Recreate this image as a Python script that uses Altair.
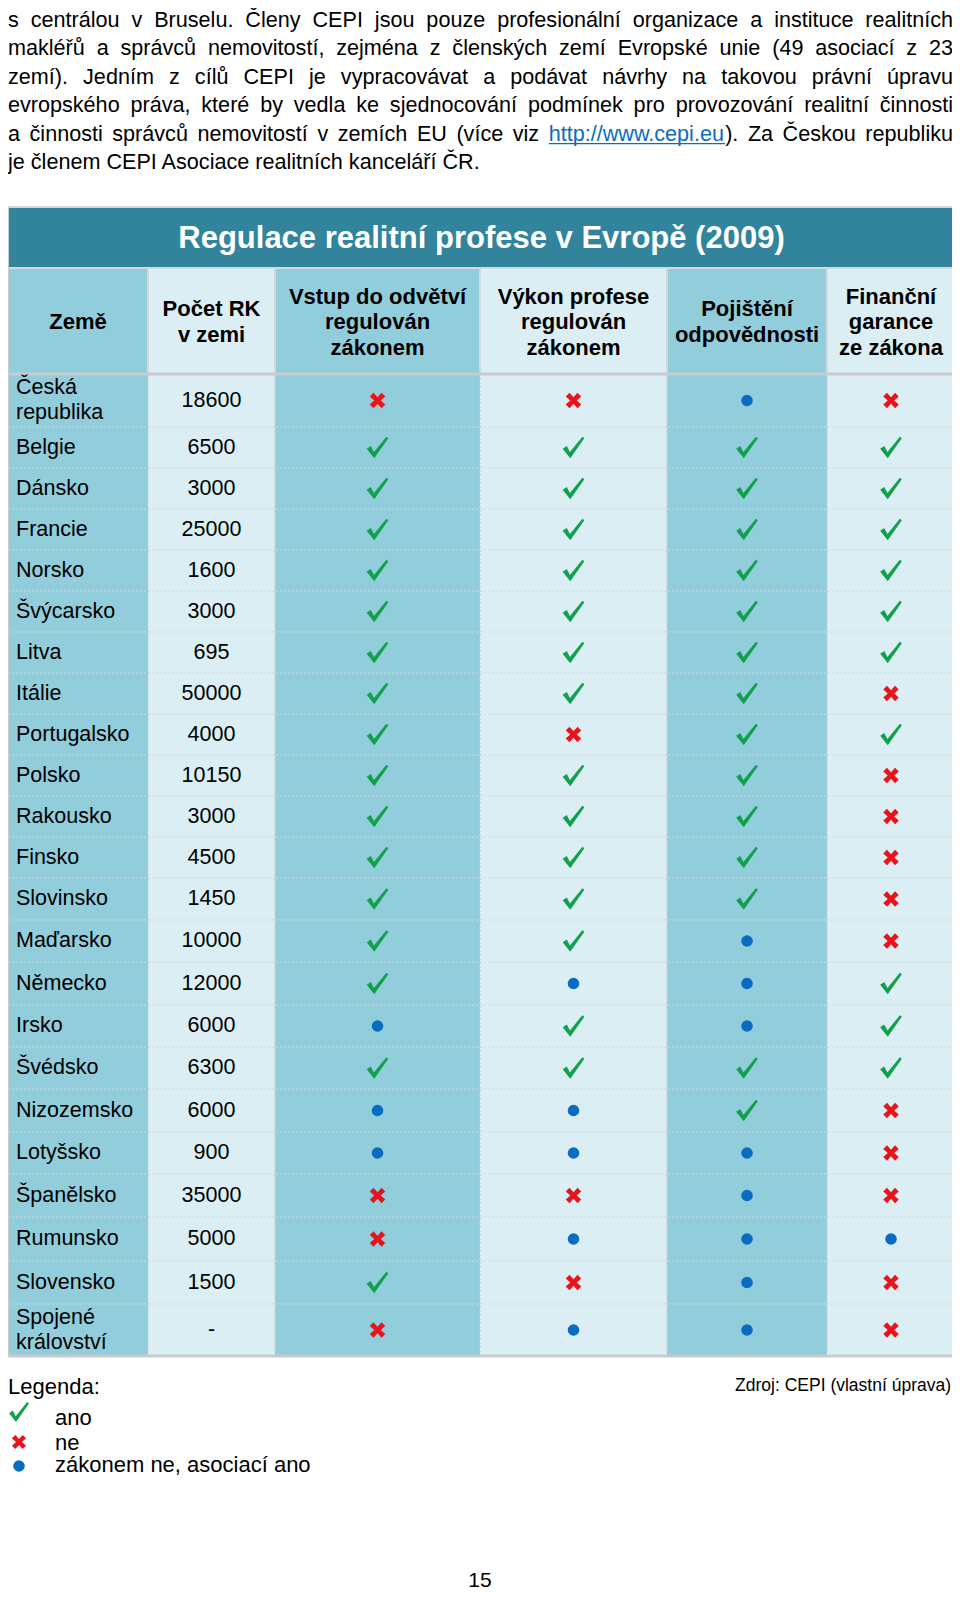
import re
import unicodedata
import altair as alt
import pandas as pd

# ---------------- data ----------------
countries = ["Česká\nrepublika", "Belgie", "Dánsko", "Francie", "Norsko", "Švýcarsko",
             "Litva", "Itálie", "Portugalsko", "Polsko", "Rakousko", "Finsko",
             "Slovinsko", "Maďarsko", "Německo", "Irsko", "Švédsko", "Nizozemsko",
             "Lotyšsko", "Španělsko", "Rumunsko", "Slovensko", "Spojené\nkrálovství"]
agencies = ["18600", "6500", "3000", "25000", "1600", "3000", "695", "50000", "4000",
            "10150", "3000", "4500", "1450", "10000", "12000", "6000", "6300", "6000",
            "900", "35000", "5000", "1500", "-"]
# y = ano, n = ne, a = zákonem ne, asociací ano
entry_regulated = ["n", "y", "y", "y", "y", "y", "y", "y", "y", "y", "y", "y", "y", "y",
                   "y", "a", "y", "a", "a", "n", "n", "y", "n"]
practice_regulated = ["n", "y", "y", "y", "y", "y", "y", "y", "n", "y", "y", "y", "y", "y",
                      "a", "y", "y", "a", "a", "n", "a", "n", "a"]
liability_insurance = ["a", "y", "y", "y", "y", "y", "y", "y", "y", "y", "y", "y", "y", "a",
                       "a", "a", "y", "y", "a", "a", "a", "a", "a"]
financial_guarantee = ["n", "y", "y", "y", "y", "y", "y", "n", "y", "n", "n", "n", "n", "n",
                       "y", "y", "y", "n", "n", "n", "a", "n", "n"]
header_labels = ["Země", "Počet RK\nv zemi", "Vstup do odvětví\nregulován\nzákonem",
                 "Výkon profese\nregulován\nzákonem", "Pojištění\nodpovědnosti",
                 "Finanční\ngarance\nze zákona"]
title_text = "Regulace realitní profese v Evropě (2009)"
paragraph_lines = [
    "s centrálou v Bruselu. Členy CEPI jsou pouze profesionální organizace a instituce realitních",
    "makléřů a správců nemovitostí, zejména z členských zemí Evropské unie (49 asociací z 23",
    "zemí). Jedním z cílů CEPI je vypracovávat a podávat návrhy na takovou právní úpravu",
    "evropského práva, které by vedla ke sjednocování podmínek pro provozování realitní činnosti",
    "a činnosti správců nemovitostí v zemích EU (více viz {http://www.cepi.eu}). Za Českou republiku",
    "je členem CEPI  Asociace realitních kanceláří ČR.",
]
legend_title = "Legenda:"
legend_keys = ["y", "n", "a"]
legend_labels = ["ano", "ne", "zákonem ne, asociací ano"]
source_text = "Zdroj: CEPI (vlastní úprava)"
page_number = "15"

# ---------------- layout / style ----------------
FONT = "Liberation Sans, Arial, Helvetica, sans-serif"
COL_EDGES = [8, 148, 275, 480, 667, 827, 955]
ROW_H = [53] + [41] * 11 + [42, 42, 43, 42, 42, 43, 42, 43, 44, 43, 52]
TITLE_TOP, HEAD_TOP, BODY_TOP = 207, 268, 374
DARK, MID, LIGHT = "#31849B", "#92CDDC", "#DAEEF3"
COL_FILL = [MID, LIGHT, MID, LIGHT, MID, LIGHT]
GREEN, RED, BLUE = "#12A04C", "#E8141C", "#0A6CC0"
CHECK = "M-1,0.12 L-0.62,-0.14 L-0.33,0.42 L0.82,-1 L1,-0.86 L-0.3,1 Z"
CROSS = ("M-1,-0.52 L-0.52,-1 L0,-0.42 L0.52,-1 L1,-0.52 L0.42,0 L1,0.52 "
         "L0.52,1 L0,0.42 L-0.52,1 L-1,0.52 L-0.42,0 Z")
HEAD_LH, ROW_LH = 25.5, 25

row_edges = [BODY_TOP]
for h in ROW_H:
    row_edges.append(row_edges[-1] + h)
BODY_BOTTOM = row_edges[-1]
col_center = [(COL_EDGES[i] + COL_EDGES[i + 1]) / 2 for i in range(6)]
row_center = [(row_edges[i] + row_edges[i + 1]) / 2 for i in range(len(ROW_H))]


def first_line_y(center, text, lh):
    """y of the first line so that a multi-line block is centred on `center`."""
    return center - (text.count("\n")) * lh / 2


XS = alt.Scale(domain=[8, 952], nice=False, zero=False)
YS = alt.Scale(domain=[8, 1591], reverse=True, nice=False, zero=False)


def X(f="x"):
    return alt.X(f"{f}:Q", scale=XS, axis=None)


def Y(f="y"):
    return alt.Y(f"{f}:Q", scale=YS, axis=None)


# ---------- text width helper (Arial / Liberation Sans metrics) ----------
AW = {' ': 278, '(': 333, ')': 333, ',': 278, '-': 333, '.': 278, '/': 278, ':': 278,
      'A': 667, 'B': 667, 'C': 722, 'D': 722, 'E': 667, 'F': 611, 'G': 778, 'H': 722,
      'I': 278, 'J': 500, 'K': 667, 'L': 556, 'M': 833, 'N': 722, 'O': 778, 'P': 667,
      'Q': 778, 'R': 722, 'S': 667, 'T': 611, 'U': 722, 'V': 667, 'W': 944, 'X': 667,
      'Y': 667, 'Z': 611, 'a': 556, 'b': 556, 'c': 500, 'd': 556, 'e': 556, 'f': 278,
      'g': 556, 'h': 556, 'i': 222, 'j': 222, 'k': 500, 'l': 222, 'm': 833, 'n': 556,
      'o': 556, 'p': 556, 'q': 556, 'r': 333, 's': 500, 't': 278, 'u': 556, 'v': 500,
      'w': 722, 'x': 500, 'y': 500, 'z': 500}
for d in "0123456789":
    AW[d] = 556
SPECIAL = {'í': 278, 'Í': 278, 'ď': 615, 'ť': 375}


def tw(s, fs):
    tot = 0
    for ch in s:
        if ch in SPECIAL:
            tot += SPECIAL[ch]
        else:
            tot += AW.get(unicodedata.normalize("NFD", ch)[0], 556)
    return tot * fs / 1000


# ---------- paragraph (justified) ----------
PFS = 21.6
PL, PR = 8, 953
PTOP, PSTEP = 21, 28.4
para, underline = [], []
for li, line in enumerate(paragraph_lines):
    y = PTOP + PSTEP * li
    if li == len(paragraph_lines) - 1:
        para.append(dict(t=line, x=PL, y=y, c="#000000"))
        continue
    words = line.split(" ")
    segs_all = []
    for w in words:
        segs = [s for s in re.split(r"(\{[^}]*\})", w) if s]
        segs_all.append([(s.strip("{}"), s.startswith("{")) for s in segs])
    widths = [sum(tw(s, PFS) for s, _ in sg) for sg in segs_all]
    gap = (PR - PL - sum(widths)) / (len(words) - 1)
    x = PL
    for sg, wd in zip(segs_all, widths):
        sx = x
        for s, link in sg:
            para.append(dict(t=s, x=sx, y=y, c=BLUE if link else "#000000"))
            if link:
                underline.append(dict(x=sx, x2=sx + tw(s, PFS), y=y + 9))
            sx += tw(s, PFS)
        x += wd + gap
para_df = pd.DataFrame(para)
under_df = pd.DataFrame(underline)

# ---------- tables ----------
title_df = pd.DataFrame([dict(x=COL_EDGES[0], x2=COL_EDGES[-1], y=TITLE_TOP, y2=HEAD_TOP)])
title_txt_df = pd.DataFrame([dict(t=title_text, x=(COL_EDGES[0] + COL_EDGES[-1]) / 2,
                                  y=(TITLE_TOP + HEAD_TOP) / 2 + 1)])
head_df = pd.DataFrame([dict(x=COL_EDGES[i], x2=COL_EDGES[i + 1], y=HEAD_TOP, y2=BODY_TOP,
                             fill=COL_FILL[i]) for i in range(6)])
head_txt_df = pd.DataFrame([dict(t=header_labels[i], x=col_center[i],
                                 y=first_line_y((HEAD_TOP + BODY_TOP) / 2 + 1, header_labels[i], HEAD_LH))
                            for i in range(6)])
cells = []
for r in range(len(countries)):
    for c in range(6):
        cells.append(dict(x=COL_EDGES[c], x2=COL_EDGES[c + 1], y=row_edges[r],
                          y2=row_edges[r + 1], fill=COL_FILL[c]))
cell_df = pd.DataFrame(cells)
hdot_df = pd.DataFrame([dict(x=COL_EDGES[0], x2=COL_EDGES[-1], y=e) for e in row_edges[1:-1]])
vdot_df = pd.DataFrame([dict(x=e, y=BODY_TOP, y2=BODY_BOTTOM) for e in COL_EDGES[1:-1]])
country_df = pd.DataFrame([dict(t=countries[i], x=16,
                                y=first_line_y(row_center[i], countries[i], ROW_LH))
                           for i in range(len(countries))])
num_df = pd.DataFrame([dict(t=agencies[i], x=col_center[1], y=row_center[i]) for i in range(len(agencies))])

sym = []
for j, col in enumerate([entry_regulated, practice_regulated, liability_insurance, financial_guarantee]):
    for i, v in enumerate(col):
        sym.append(dict(x=col_center[j + 2], y=row_center[i], k=v))
sym_df = pd.DataFrame(sym)

leg_sym_df = pd.DataFrame([dict(x=19, y=yy, k=k) for yy, k in zip([1412, 1442, 1466], legend_keys)])
leg_txt_df = pd.DataFrame([dict(t=legend_title, x=8, y=1387)] +
                          [dict(t=l, x=55, y=yy) for yy, l in zip([1418, 1443, 1465], legend_labels)])

# ---------------- charts ----------------
layers = []
layers.append(alt.Chart(title_df).mark_rect(fill=DARK, stroke="#D4D8DA", strokeWidth=2)
              .encode(x=X(), x2="x2:Q", y=Y(), y2="y2:Q"))
layers.append(alt.Chart(title_txt_df).mark_text(font=FONT, fontSize=31, fontWeight="bold",
                                                color="white", align="center", baseline="middle")
              .encode(x=X(), y=Y(), text="t:N"))
layers.append(alt.Chart(head_df).mark_rect(stroke="#D4D9DB", strokeWidth=2)
              .encode(x=X(), x2="x2:Q", y=Y(), y2="y2:Q", fill=alt.Fill("fill:N", scale=None)))
layers.append(alt.Chart(cell_df).mark_rect(strokeWidth=0)
              .encode(x=X(), x2="x2:Q", y=Y(), y2="y2:Q", fill=alt.Fill("fill:N", scale=None)))
layers.append(alt.Chart(hdot_df).mark_rule(color="#D2DADD", strokeWidth=1.2, strokeDash=[2, 2])
              .encode(x=X(), x2="x2:Q", y=Y()))
layers.append(alt.Chart(vdot_df).mark_rule(color="#C2CCD0", strokeWidth=1.2, strokeDash=[2, 2])
              .encode(x=X(), y=Y(), y2="y2:Q"))
border_df = pd.DataFrame([
    dict(x=COL_EDGES[0], x2=COL_EDGES[-1], y=BODY_TOP, y2=BODY_TOP, w=3),
    dict(x=COL_EDGES[0], x2=COL_EDGES[-1], y=BODY_BOTTOM, y2=BODY_BOTTOM, w=3),
    dict(x=COL_EDGES[0], x2=COL_EDGES[0], y=TITLE_TOP, y2=BODY_BOTTOM, w=2),
    dict(x=COL_EDGES[-1], x2=COL_EDGES[-1], y=TITLE_TOP, y2=BODY_BOTTOM, w=2),
])
layers.append(alt.Chart(border_df).mark_rule(color="#C8CCCE")
              .encode(x=X(), x2="x2:Q", y=Y(), y2="y2:Q",
                      strokeWidth=alt.StrokeWidth("w:Q", scale=None)))
layers.append(alt.Chart(head_txt_df).mark_text(font=FONT, fontSize=22, fontWeight="bold",
                                               color="black", align="center", baseline="middle",
                                               lineBreak="\n", lineHeight=HEAD_LH)
              .encode(x=X(), y=Y(), text="t:N"))
layers.append(alt.Chart(country_df).mark_text(font=FONT, fontSize=21.5, color="black",
                                              align="left", baseline="middle",
                                              lineBreak="\n", lineHeight=ROW_LH)
              .encode(x=X(), y=Y(), text="t:N"))
layers.append(alt.Chart(num_df).mark_text(font=FONT, fontSize=21.5, color="black",
                                          align="center", baseline="middle")
              .encode(x=X(), y=Y(), text="t:N"))


def symbols(df, sizes):
    out = []
    specs = {"y": (CHECK, GREEN), "n": (CROSS, RED), "a": ("circle", BLUE)}
    for k, (shape, color) in specs.items():
        sub = df[df["k"] == k]
        out.append(alt.Chart(sub).mark_point(shape=shape, filled=True, color=color, opacity=1,
                                             size=sizes[k], strokeWidth=0)
                   .encode(x=X(), y=Y()))
    return out


layers += symbols(sym_df, {"y": 470, "n": 240, "a": 135})
layers += symbols(leg_sym_df, {"y": 400, "n": 200, "a": 135})
layers.append(alt.Chart(leg_txt_df).mark_text(font=FONT, fontSize=22, color="black",
                                              align="left", baseline="middle")
              .encode(x=X(), y=Y(), text="t:N"))
layers.append(alt.Chart(pd.DataFrame([dict(t=source_text, x=951, y=1386)]))
              .mark_text(font=FONT, fontSize=17.5, color="black", align="right", baseline="middle")
              .encode(x=X(), y=Y(), text="t:N"))
layers.append(alt.Chart(pd.DataFrame([dict(t=page_number, x=480, y=1581)]))
              .mark_text(font=FONT, fontSize=21, color="black", align="center", baseline="middle")
              .encode(x=X(), y=Y(), text="t:N"))
layers.append(alt.Chart(para_df).mark_text(font=FONT, fontSize=PFS, align="left", baseline="middle")
              .encode(x=X(), y=Y(), text="t:N", color=alt.Color("c:N", scale=None)))
layers.append(alt.Chart(under_df).mark_rule(color=BLUE, strokeWidth=1.2)
              .encode(x=X(), x2="x2:Q", y=Y()))

chart = (alt.layer(*layers)
         .properties(width=944, height=1583, padding=0,
                     autosize=alt.AutoSizeParams(type="none"), background="white")
         .configure_view(stroke=None))

chart.save("out.html", embed_options={"renderer": "svg", "actions": False})
